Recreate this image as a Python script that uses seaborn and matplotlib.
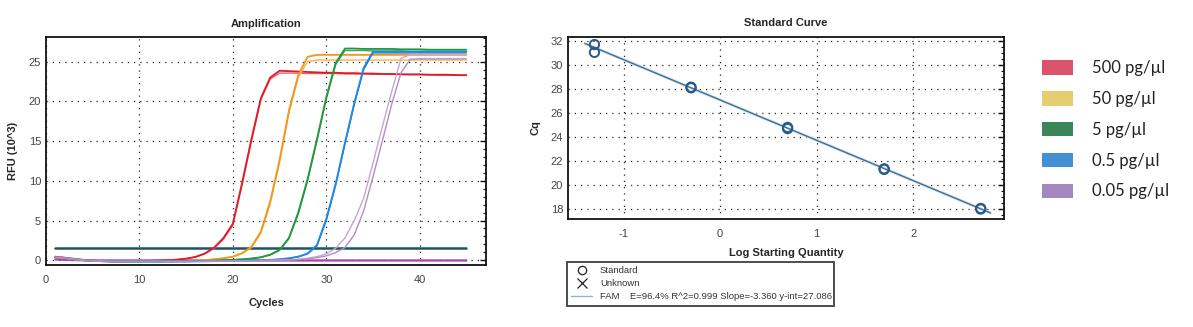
import numpy as np
import pandas as pd
import matplotlib
matplotlib.use("Agg")
import matplotlib.pyplot as plt
from matplotlib.lines import Line2D
from matplotlib.patches import Patch
from matplotlib.ticker import MultipleLocator
import seaborn as sns

# ---------------- data ----------------
cycles = list(range(1, 46))

base_a = [0.45, 0.32, 0.18, 0.05, -0.05, -0.10, -0.12, -0.12, -0.12, -0.10,
          -0.08, -0.05]
red_1 = base_a + [0.00, 0.08, 0.20, 0.42, 0.85, 1.60, 2.80, 4.60, 9.80, 15.3,
                  20.4, 23.0, 23.85, 23.8, 23.75, 23.7, 23.65, 23.6, 23.6, 23.55,
                  23.55, 23.5, 23.5, 23.45, 23.45, 23.4, 23.4, 23.4, 23.35, 23.35,
                  23.35, 23.3, 23.3]
red_2 = base_a + [0.00, 0.07, 0.18, 0.40, 0.80, 1.50, 2.65, 4.40, 9.50, 15.0,
                  20.2, 22.8, 23.55, 23.55, 23.55, 23.5, 23.5, 23.5, 23.5, 23.45,
                  23.45, 23.45, 23.4, 23.4, 23.4, 23.4, 23.35, 23.35, 23.35, 23.3,
                  23.3, 23.3, 23.25]
orange_1 = [0.40, 0.30, 0.15, 0.03, -0.06, -0.12, -0.15, -0.15, -0.15, -0.15,
            -0.15, -0.15, -0.14, -0.12, -0.10, -0.05, 0.02, 0.12, 0.25, 0.45,
            0.90, 1.70, 3.60, 7.40, 12.6, 18.8, 23.3, 25.6, 25.85, 25.85,
            25.85, 25.85, 25.85, 25.85, 25.85, 25.85, 25.85, 25.85, 25.85, 25.85,
            25.85, 25.85, 25.85, 25.85, 25.85]
orange_2 = [0.40, 0.30, 0.15, 0.03, -0.06, -0.12, -0.15, -0.15, -0.15, -0.15,
            -0.15, -0.15, -0.14, -0.12, -0.10, -0.05, 0.02, 0.11, 0.24, 0.43,
            0.85, 1.60, 3.40, 7.10, 12.3, 18.5, 23.0, 25.0, 25.2, 25.2,
            25.2, 25.2, 25.2, 25.2, 25.2, 25.2, 25.2, 25.2, 25.2, 25.2,
            25.2, 25.2, 25.2, 25.2, 25.2]
green_1 = [0.35, 0.25, 0.10, 0.00, -0.08, -0.12, -0.15, -0.15, -0.15, -0.15,
           -0.15, -0.15, -0.15, -0.14, -0.13, -0.10, -0.08, -0.05, 0.00, 0.05,
           0.12, 0.22, 0.38, 0.70, 1.30, 2.80, 6.00, 10.2, 15.2, 20.5,
           24.8, 26.65, 26.65, 26.6, 26.6, 26.6, 26.6, 26.55, 26.55, 26.55,
           26.5, 26.5, 26.5, 26.5, 26.5]
green_2 = [0.35, 0.25, 0.10, 0.00, -0.08, -0.12, -0.15, -0.15, -0.15, -0.15,
           -0.15, -0.15, -0.15, -0.14, -0.13, -0.10, -0.08, -0.05, 0.00, 0.05,
           0.11, 0.20, 0.36, 0.66, 1.25, 2.70, 5.80, 10.0, 15.0, 20.3,
           24.6, 26.4, 26.4, 26.4, 26.35, 26.35, 26.35, 26.35, 26.3, 26.3,
           26.3, 26.3, 26.3, 26.3, 26.3]
blue_1 = [0.35, 0.25, 0.10, 0.00, -0.08, -0.12, -0.15, -0.15, -0.15, -0.15,
          -0.15, -0.15, -0.15, -0.15, -0.15, -0.14, -0.13, -0.12, -0.10, -0.08,
          -0.05, -0.02, 0.02, 0.05, 0.12, 0.25, 0.45, 0.85, 1.90, 5.20,
          9.60, 14.8, 19.8, 24.2, 26.25, 26.25, 26.25, 26.25, 26.25, 26.25,
          26.25, 26.25, 26.25, 26.25, 26.25]
blue_2 = [0.35, 0.25, 0.10, 0.00, -0.08, -0.12, -0.15, -0.15, -0.15, -0.15,
          -0.15, -0.15, -0.15, -0.15, -0.15, -0.14, -0.13, -0.12, -0.10, -0.08,
          -0.05, -0.02, 0.02, 0.05, 0.11, 0.23, 0.43, 0.80, 1.80, 5.00,
          9.40, 14.6, 19.6, 24.0, 26.1, 26.1, 26.1, 26.1, 26.1, 26.1,
          26.1, 26.1, 26.1, 26.1, 26.1]
purple_1 = [0.35, 0.25, 0.10, 0.00, -0.08, -0.12, -0.15, -0.15, -0.15, -0.15,
            -0.15, -0.15, -0.15, -0.15, -0.15, -0.15, -0.14, -0.13, -0.12, -0.10,
            -0.08, -0.05, -0.02, 0.00, 0.03, 0.06, 0.12, 0.25, 0.45, 0.80,
            1.50, 2.80, 5.00, 7.80, 12.2, 16.8, 21.2, 25.4, 25.9, 25.9,
            25.9, 25.9, 25.9, 25.9, 25.9]
purple_2 = [0.35, 0.25, 0.10, 0.00, -0.08, -0.12, -0.15, -0.15, -0.15, -0.15,
            -0.15, -0.15, -0.15, -0.15, -0.15, -0.15, -0.14, -0.13, -0.12, -0.10,
            -0.08, -0.06, -0.04, -0.02, 0.01, 0.04, 0.08, 0.18, 0.32, 0.55,
            0.95, 1.60, 3.20, 6.20, 10.5, 15.0, 19.6, 23.6, 25.3, 25.35,
            25.35, 25.35, 25.35, 25.35, 25.35]
ntc = [0.10, 0.05, 0.02, 0.00, -0.02, -0.03, -0.03, -0.03, -0.03, -0.03,
       -0.03, -0.03, -0.03, -0.03, -0.03, -0.03, -0.03, -0.03, -0.03, -0.03,
       -0.03, -0.03, -0.03, -0.03, -0.03, -0.03, -0.03, -0.03, -0.03, -0.03,
       -0.03, -0.03, -0.03, -0.03, -0.03, -0.03, -0.03, -0.03, -0.03, -0.03,
       -0.03, -0.03, -0.03, -0.03, -0.03]
threshold = 1.5

# standard curve data
std_quantity = [500, 500, 50, 50, 5, 5, 0.5, 0.5, 0.05, 0.05]
std_cq = [18.05, 18.0, 21.3, 21.35, 24.7, 24.8, 28.1, 28.15, 31.05, 31.7]
fit_slope = -3.360
fit_intercept = 27.086
fit_range = [-1.40, 2.80]
fit_text = "FAM    E=96.4% R^2=0.999 Slope=-3.360 y-int=27.086"

legend_labels = ["500 pg/\u00b5l", "50 pg/\u00b5l", "5 pg/\u00b5l", "0.5 pg/\u00b5l", "0.05 pg/\u00b5l"]
legend_colors = ["#d9546a", "#e6cd70", "#3b8559", "#4590d3", "#a487be"]

# ---------------- style ----------------
sns.set_theme(style="white")
plt.rcParams['font.family'] = ['Liberation Sans', 'DejaVu Sans']
plt.rcParams['axes.unicode_minus'] = False

fig = plt.figure(figsize=(11.93, 3.27), dpi=100)
W, H = 1193, 327

def axes_px(x0, y0, x1, y1):
    return fig.add_axes([x0 / W, 1 - y1 / H, (x1 - x0) / W, (y1 - y0) / H])

grid_kw = dict(color="#222222", linestyle=(0, (1, 4)), linewidth=0.9)
tick_color = "#444444"

def style_axes(ax):
    for s in ax.spines.values():
        s.set_color("#111111")
        s.set_linewidth(1.3)
    ax.tick_params(which="both", direction="out", color="#111111",
                   labelsize=8, labelcolor=tick_color, top=False, right=True)
    ax.tick_params(which="major", length=4, width=1)
    ax.tick_params(which="minor", length=2.5, width=0.8)
    ax.tick_params(axis="y", which="both", right=True, direction="in")
    ax.grid(True, which="major", **grid_kw)
    ax.set_axisbelow(True)

# ---------------- Amplification ----------------
ax1 = axes_px(46, 37, 486, 265)
series = [
    ("ntc", ntc, "#b23cb2", 1.6),
    ("red_2", red_2, "#f06070", 1.0),
    ("red_1", red_1, "#e01b25", 1.3),
    ("orange_2", orange_2, "#f3b64a", 1.0),
    ("orange_1", orange_1, "#f7941d", 1.3),
    ("green_2", green_2, "#3aa85a", 1.0),
    ("green_1", green_1, "#1f9a3a", 1.3),
    ("blue_2", blue_2, "#2a70b8", 1.0),
    ("blue_1", blue_1, "#1e8ae6", 1.3),
    ("purple_1", purple_1, "#c8a6d2", 1.0),
    ("purple_2", purple_2, "#b58cc4", 1.0),
]
ax1.plot([cycles[0], cycles[-1]], [threshold, threshold], color="#1b5566", lw=1.8, zorder=2)
for name, vals, col, lw in series:
    df = pd.DataFrame({"cycle": cycles, "rfu": vals})
    sns.lineplot(data=df, x="cycle", y="rfu", ax=ax1, color=col, lw=lw,
                 estimator=None, zorder=3)
ax1.set_xlim(0, 47.1)
ax1.set_ylim(-0.6, 28.1)
ax1.xaxis.set_major_locator(MultipleLocator(10))
ax1.xaxis.set_minor_locator(MultipleLocator(2))
ax1.yaxis.set_major_locator(MultipleLocator(5))
ax1.yaxis.set_minor_locator(MultipleLocator(1))
style_axes(ax1)
ax1.set_title("Amplification", fontsize=8, fontweight="bold", pad=7)
ax1.set_xlabel("Cycles", fontsize=8, fontweight="bold", labelpad=9)
ax1.set_ylabel("RFU (10^3)", fontsize=8, fontweight="bold", labelpad=8)

# ---------------- Standard curve ----------------
ax2 = axes_px(568, 37, 1004, 219)
sdf = pd.DataFrame({"logq": np.log10(std_quantity), "cq": std_cq})
fx = np.array(fit_range)
fdf = pd.DataFrame({"logq": fx, "cq": fit_intercept + fit_slope * fx})
sns.lineplot(data=fdf, x="logq", y="cq", ax=ax2, color="#d3e3ef", lw=2.2, zorder=2)
sns.lineplot(data=fdf, x="logq", y="cq", ax=ax2, color="#3f6f8f", lw=1.0, zorder=3)
sns.scatterplot(data=sdf, x="logq", y="cq", ax=ax2, marker="o", s=45,
                facecolor="none", edgecolor="#2a5a8a", linewidth=1.4, zorder=4)
ax2.set_xlim(-1.575, 2.94)
ax2.set_ylim(17.17, 32.33)
ax2.xaxis.set_major_locator(MultipleLocator(1))
ax2.xaxis.set_minor_locator(MultipleLocator(0.2))
ax2.yaxis.set_major_locator(MultipleLocator(2))
ax2.yaxis.set_minor_locator(MultipleLocator(0.5))
style_axes(ax2)
ax2.set_title("Standard Curve", fontsize=8, fontweight="bold", pad=8)
ax2.set_xlabel("Log Starting Quantity", fontsize=8, fontweight="bold", labelpad=6)
ax2.set_ylabel("Cq", fontsize=8, fontweight="bold", labelpad=7)

std_handles = [
    Line2D([], [], marker="o", mfc="none", mec="#222222", ls="none", ms=6, mew=0.9),
    Line2D([], [], marker="x", color="#222222", ls="none", ms=7, mew=0.9),
    Line2D([], [], color="#8fb6d3", lw=1.0),
]
leg2 = fig.legend(std_handles, ["Standard", "Unknown", fit_text],
                  loc="upper left",
                  bbox_to_anchor=(566.7 / W, 1 - 261.5 / H, (834.3 - 566.7) / W, 0.0),
                  mode="expand", fontsize=6.8, frameon=True, fancybox=False,
                  borderpad=0.5, labelspacing=0.41, handlelength=2.2,
                  handletextpad=0.8, borderaxespad=0)
leg2.get_frame().set_edgecolor("#111111")
leg2.get_frame().set_linewidth(1.3)
for t in leg2.get_texts():
    t.set_color("#333333")

# ---------------- colour legend ----------------
patches = [Patch(facecolor=c, edgecolor="none") for c in legend_colors]
leg = fig.legend(patches, legend_labels, loc="upper left",
                 bbox_to_anchor=(1035.5 / W, 1 - 53.5 / H), frameon=False,
                 prop={"family": ["Lato", "DejaVu Sans"], "size": 12},
                 handlelength=1.86, handleheight=0.96, labelspacing=0.89,
                 handletextpad=1.14, borderaxespad=0)
for t in leg.get_texts():
    t.set_color("#222222")

fig.savefig("out.png", dpi=100)
